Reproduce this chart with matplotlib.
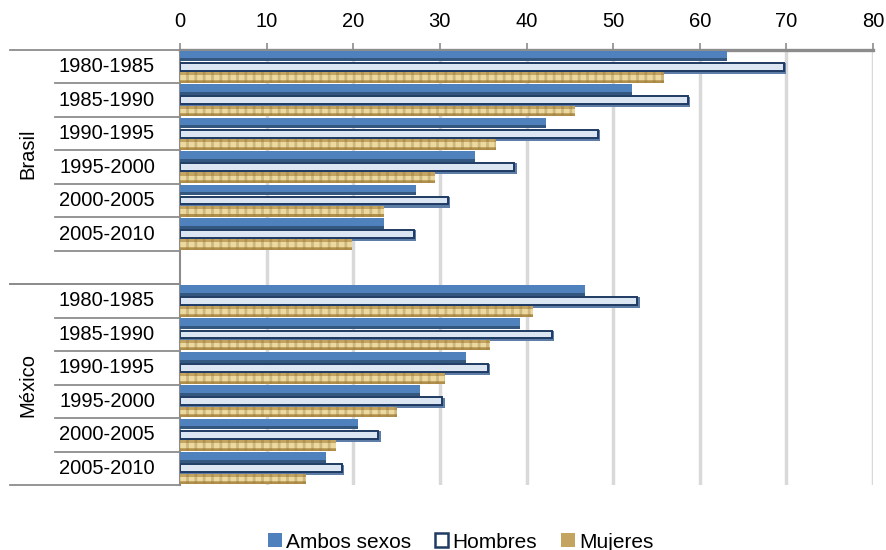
import matplotlib
matplotlib.use("Agg")
import matplotlib.pyplot as plt
from matplotlib.patches import Patch
from matplotlib.lines import Line2D

plt.rcParams['font.family'] = ['Liberation Sans', 'DejaVu Sans']
plt.rcParams['hatch.linewidth'] = 2.0

periods = ['1980-1985', '1985-1990', '1990-1995', '1995-2000', '2000-2005', '2005-2010']
countries = ['Brasil', 'México']
series_names = ['Ambos sexos', 'Hombres', 'Mujeres']

ambos_brasil = [63.2, 52.2, 42.3, 34.1, 27.3, 23.6]
hombres_brasil = [69.7, 58.6, 48.2, 38.6, 30.9, 27.0]
mujeres_brasil = [55.9, 45.6, 36.5, 29.4, 23.5, 19.9]

ambos_mexico = [46.8, 39.3, 33.0, 27.7, 20.5, 16.8]
hombres_mexico = [52.8, 42.9, 35.5, 30.3, 22.9, 18.7]
mujeres_mexico = [40.8, 35.8, 30.6, 25.0, 18.0, 14.6]

x_ticks = [0, 10, 20, 30, 40, 50, 60, 70, 80]

BLUE = '#4F81BD'
BLUE_DARK = '#34577F'
NAVY = '#1F3B63'
LIGHT = '#DCE6F3'
GOLD = '#C4A461'
CREAM = '#ECD9A0'
BROWN = '#8A6A30'
GRID = '#D9D9D9'
AXIS = '#8C8C8C'
FS = 14.5

fig = plt.figure(figsize=(8.86, 5.5), dpi=100)
ax = fig.add_axes([180 / 886, 1 - 485 / 550, 693 / 886, 435 / 550])

# row layout: Brasil rows 0-5, spacer row 6, México rows 7-12
groups = [
    (countries[0], 0, ambos_brasil, hombres_brasil, mujeres_brasil),
    (countries[1], 7, ambos_mexico, hombres_mexico, mujeres_mexico),
]
bh = 0.32
off = 0.32

for name, start, amb, hom, muj in groups:
    centers = [start + i + 0.5 for i in range(len(periods))]
    ya = [c - off for c in centers]
    yh = centers
    ym = [c + off for c in centers]

    # Ambos sexos: solid blue with darker lower face
    ax.barh(ya, amb, height=bh, color=BLUE, linewidth=0, zorder=3)
    ax.barh([y + bh * 0.36 for y in ya], amb, height=bh * 0.28, color=BLUE_DARK,
            linewidth=0, zorder=3.1)

    # Hombres: light face, dark outline and a shaded depth band
    ax.barh([y + 0.05 for y in yh], [v + 0.25 for v in hom], height=bh, color='#5E7DA6',
            linewidth=0, zorder=3)
    ax.barh(yh, hom, height=bh * 0.72, color=LIGHT, edgecolor=NAVY,
            linewidth=1.4, zorder=3.2)

    # Mujeres: woven gold texture
    ax.barh(ym, muj, height=bh, color=GOLD, linewidth=0, zorder=3)
    ax.barh(ym, muj, height=bh * 0.42, color=CREAM, linewidth=0, zorder=3.05)
    ax.barh(ym, muj, height=bh, facecolor='none', edgecolor=BROWN, hatch='||',
            linewidth=0, alpha=0.3, zorder=3.1)
    ax.barh([y + bh * 0.4 for y in ym], muj, height=bh * 0.2, color='#A4843F',
            linewidth=0, alpha=0.65, zorder=3.15)

ax.set_xlim(0, 80)
ax.set_ylim(13, 0)
ax.set_xticks(x_ticks)
ax.xaxis.tick_top()
ax.tick_params(axis='x', length=5, width=1.2, color=AXIS, labelsize=FS, pad=9)
ax.set_xticklabels([str(t) for t in x_ticks])
ax.set_yticks([])

for t in x_ticks[1:]:
    ax.axvline(t, color=GRID, linewidth=2.5, zorder=1)

for side in ['right', 'bottom']:
    ax.spines[side].set_visible(False)
ax.spines['top'].set_color(AXIS)
ax.spines['top'].set_linewidth(2.4)
ax.spines['left'].set_color(AXIS)
ax.spines['left'].set_linewidth(1.5)

# category labels and separator lines on the left
tr = ax.get_yaxis_transform()
x_inner = (55 - 180) / 693
x_outer = (10 - 180) / 693
for name, start, *_ in groups:
    for i, p in enumerate(periods):
        ax.text((155 - 180) / 693, start + i + 0.5, p, transform=tr, ha='right',
                va='center', fontsize=FS)
    n_rows = 7 if start == 0 else 6
    for k in range(1, n_rows):
        ax.add_line(Line2D([x_inner, 0], [start + k, start + k], transform=tr,
                           color=AXIS, linewidth=1.3, clip_on=False))
    for yb in (start, start + n_rows):
        ax.add_line(Line2D([x_outer, 0], [yb, yb], transform=tr,
                           color=AXIS, linewidth=1.3, clip_on=False))
    ax.text((28 - 180) / 693, start + n_rows / 2 - (0.4 if start == 0 else 0), name,
            transform=tr, rotation=90, ha='center', va='center', fontsize=FS)

handles = [
    Patch(facecolor=BLUE, edgecolor='none'),
    Patch(facecolor='white', edgecolor=NAVY, linewidth=1.8),
    Patch(facecolor=GOLD, edgecolor='none'),
]
fig.legend(handles, series_names, loc='lower center', bbox_to_anchor=(0.52, -0.037),
           ncol=3, frameon=False, fontsize=15, handlelength=0.65, handleheight=0.65,
           handletextpad=0.2, columnspacing=1.15)

fig.savefig('out.png', dpi=100)
